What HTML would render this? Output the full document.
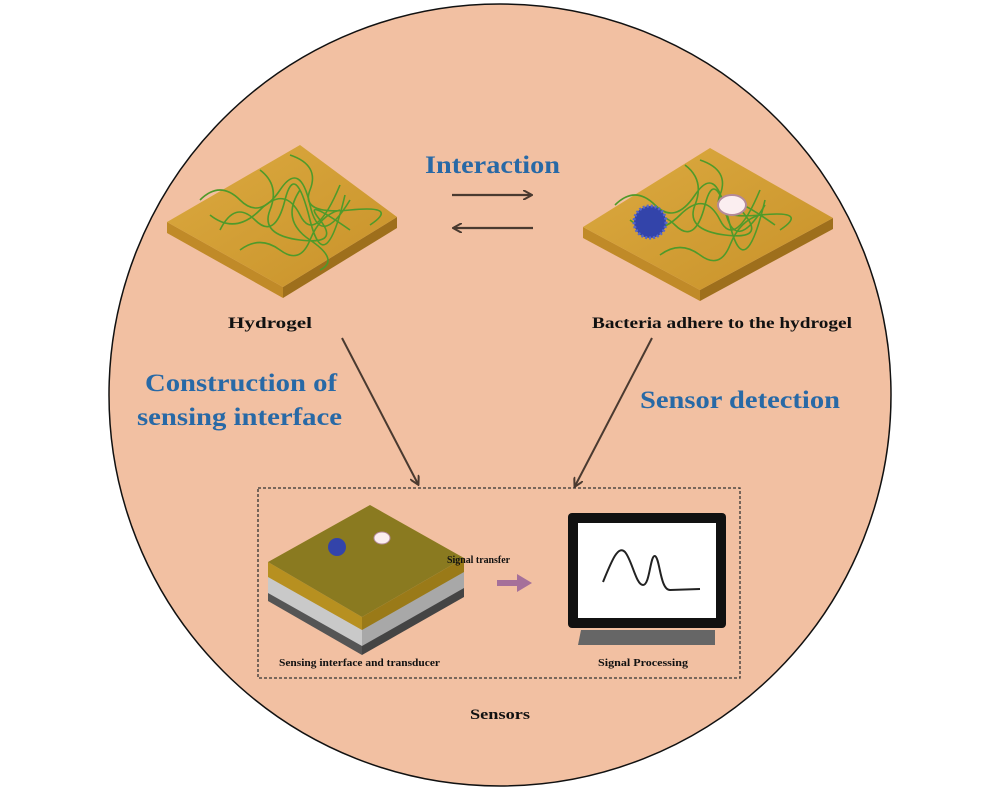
<!DOCTYPE html>
<html><head><meta charset="utf-8"><style>
html,body{margin:0;padding:0;background:#fff;}
svg{display:block;}
text{font-family:"Liberation Serif",serif;font-weight:bold;}
</style></head><body>
<svg width="1000" height="787" viewBox="0 0 1000 787" xmlns="http://www.w3.org/2000/svg">
<defs>
<linearGradient id="top" x1="0" y1="0" x2="1" y2="1"><stop offset="0" stop-color="#dcaa40"/><stop offset="1" stop-color="#c8922a"/></linearGradient>
<marker id="ah" markerWidth="10" markerHeight="10" refX="8" refY="5" orient="auto" markerUnits="userSpaceOnUse"><path d="M0,0 L9,5 L0,10" fill="none" stroke="#4a3a30" stroke-width="2"/></marker>
</defs>
<circle cx="500" cy="395" r="391" fill="#f2c0a2" stroke="#111" stroke-width="1.5"/>

<polygon points="167,222 283,287 283,298 167,233" fill="#c08a28"/>
<polygon points="283,287 397,217 397,228 283,298" fill="#9e6f1c"/>
<polygon points="300,145 397,217 283,287 167,222" fill="url(#top)"/>
<g fill="none" stroke="#4f9a2a" stroke-width="1.6">
<path d="M200,200 q20,-20 40,0 t40,-10 t30,15 t40,-5"/>
<path d="M220,230 q15,-30 35,-10 t30,-20 t25,20 t35,-25"/>
<path d="M260,170 q20,15 10,40 t30,30 t20,-20 t30,10"/>
<path d="M290,155 q30,10 20,35 t40,20 t20,15"/>
<path d="M240,250 q20,-15 40,0 t30,-10 t30,-30"/>
<path d="M210,215 q25,20 50,-5 t40,5 t40,-30"/>
<path d="M300,190 q-20,30 10,50 t10,30"/>
</g>

<polygon points="583,227 700,290 700,301 583,238" fill="#c08a28"/>
<polygon points="700,290 833,218 833,229 700,301" fill="#9e6f1c"/>
<polygon points="710,148 833,218 700,290 583,227" fill="url(#top)"/>
<g fill="none" stroke="#4f9a2a" stroke-width="1.6">
<path d="M615,205 q20,-20 40,0 t40,-10 t30,15 t40,-5"/>
<path d="M640,235 q15,-30 35,-10 t30,-20 t25,20 t35,-25"/>
<path d="M685,165 q20,15 10,40 t30,30 t20,-20 t30,10"/>
<path d="M700,160 q30,10 20,35 t40,20 t20,15"/>
<path d="M660,255 q20,-15 40,0 t30,-10 t30,-30"/>
<path d="M630,220 q25,20 50,-5 t40,5 t40,-30"/>
</g>
<circle cx="650" cy="222" r="16" fill="#3344aa" stroke="#5566cc" stroke-width="3" stroke-dasharray="2 2"/>
<ellipse cx="732" cy="205" rx="14" ry="10" fill="#fbeef0" stroke="#b48a9a" stroke-width="2"/>

<line x1="452" y1="195" x2="531" y2="195" stroke="#4a3a30" stroke-width="2.2" marker-end="url(#ah)"/>
<line x1="533" y1="228" x2="454" y2="228" stroke="#4a3a30" stroke-width="2.2" marker-end="url(#ah)"/>
<line x1="342" y1="338" x2="418" y2="484" stroke="#4a3a30" stroke-width="2" marker-end="url(#ah)"/>
<line x1="652" y1="338" x2="575" y2="486" stroke="#4a3a30" stroke-width="2" marker-end="url(#ah)"/>

<rect x="258" y="488" width="482" height="190" fill="none" stroke="#333" stroke-width="1.3" stroke-dasharray="3 2"/>

<polygon points="268,582 362,636 362,655 268,601" fill="#555"/>
<polygon points="362,636 464,578 464,597 362,655" fill="#444"/>
<polygon points="268,575 362,628 362,646 268,593" fill="#c9c9c9"/>
<polygon points="362,628 464,570 464,588 362,646" fill="#a8a8a8"/>
<polygon points="268,562 362,617 362,630 268,577" fill="#b79020"/>
<polygon points="362,617 464,558 464,572 362,630" fill="#9a7a18"/>
<polygon points="370,505 464,558 362,617 268,562" fill="#8a7a20"/>
<circle cx="337" cy="547" r="9" fill="#3344aa"/>
<ellipse cx="382" cy="538" rx="8" ry="6" fill="#fbeef0" stroke="#b48a9a"/>

<polygon points="497,580 517,580 517,574 532,583 517,592 517,586 497,586" fill="#a5709a"/>

<rect x="568" y="513" width="158" height="115" rx="4" fill="#111"/>
<rect x="578" y="523" width="138" height="95" fill="#fff"/>
<path d="M603,582 C612,560 618,545 625,552 C632,560 636,585 643,585 C650,585 650,555 655,556 C660,558 660,590 670,590 L700,589" fill="none" stroke="#222" stroke-width="2"/>
<polygon points="581,630 715,630 715,645 578,645" fill="#666"/>

<text x="425" y="173" font-size="25" fill="#2869a6" textLength="135" lengthAdjust="spacingAndGlyphs">Interaction</text>
<text x="228" y="328" font-size="16" fill="#111" textLength="84" lengthAdjust="spacingAndGlyphs">Hydrogel</text>
<text x="592" y="328" font-size="16" fill="#111" textLength="260" lengthAdjust="spacingAndGlyphs">Bacteria adhere to the hydrogel</text>
<text x="145" y="391" font-size="25" fill="#2869a6" textLength="192" lengthAdjust="spacingAndGlyphs">Construction of</text>
<text x="137" y="425" font-size="25" fill="#2869a6" textLength="205" lengthAdjust="spacingAndGlyphs">sensing interface</text>
<text x="640" y="408" font-size="25" fill="#2869a6" textLength="200" lengthAdjust="spacingAndGlyphs">Sensor detection</text>
<text x="447" y="563" font-size="10" fill="#111" textLength="63" lengthAdjust="spacingAndGlyphs">Signal transfer</text>
<text x="279" y="666" font-size="11" fill="#111" textLength="161" lengthAdjust="spacingAndGlyphs">Sensing interface and transducer</text>
<text x="598" y="666" font-size="11" fill="#111" textLength="90" lengthAdjust="spacingAndGlyphs">Signal Processing</text>
<text x="470" y="719" font-size="15" fill="#111" textLength="60" lengthAdjust="spacingAndGlyphs">Sensors</text>
</svg>
</body></html>
